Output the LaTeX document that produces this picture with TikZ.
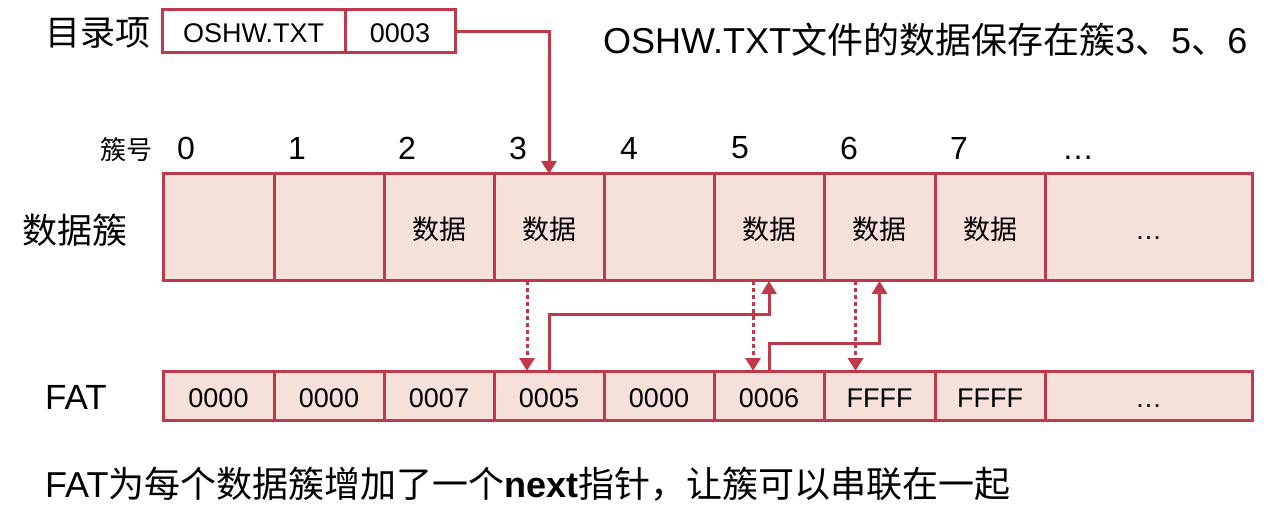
\documentclass[tikz,border=0pt]{standalone}
\usepackage{fontspec}
\setmainfont{Liberation Sans}
\newfontfamily\cjk{Noto Sans CJK SC}
\usetikzlibrary{arrows.meta}
\definecolor{cred}{HTML}{C0394B}
\definecolor{cfill}{HTML}{F5E0DA}
\newcommand{\myell}{\vphantom{0}\dots}
\tikzset{
  cell/.style={draw=cred, fill=cfill, line width=3pt, inner sep=0pt, outer sep=0pt, font=\fontsize{27}{30}\selectfont},
  entrycell/.style={draw=cred, fill=white, line width=3pt, inner sep=0pt, outer sep=0pt, font=\fontsize{27}{30}\selectfont, text height=22pt, text depth=0pt},
  bigtxt/.style={inner sep=0pt, font=\fontsize{35}{40}\selectfont},
  numtxt/.style={inner sep=0pt, font=\fontsize{32}{36}\selectfont},
  smalltxt/.style={inner sep=0pt, font=\fontsize{26}{30}\selectfont},
  link/.style={draw=cred, line width=3pt, -{Triangle[width=15pt,length=13pt]}},
  dotlink/.style={link, dash pattern=on 4pt off 3pt},
}
\begin{document}
\begin{tikzpicture}[x=1pt,y=-1pt]
\path[use as bounding box] (0,0) rectangle (1268,526);

% directory entry
\node[bigtxt] (lblentry) at (98,33) {\cjk 目录项};
\node[entrycell, minimum width=183pt, minimum height=43pt] (e1) at (253.5,31.5) {OSHW.TXT};
\node[entrycell, minimum width=110pt, minimum height=43pt] (e2) at (400,31.5) {0003};
\node[bigtxt, anchor=west, font=\fontsize{36}{40}\selectfont] (title) at (603,40) {OSHW.TXT{\cjk 文件的数据保存在簇}3{\cjk 、}5{\cjk 、}6};

% cluster numbers
\node[smalltxt] (lblnum) at (126,150) {\cjk 簇号};
\foreach \x/\t [count=\i from 0] in {186/0,297/1,407/2,518/3,629/4,740/5,849/6,959/7,1078/\myell}
  \node[numtxt] (n\i) at (\x,148) {\t};

% data clusters
\node[bigtxt] (lbldata) at (75,230) {\cjk 数据簇};
\foreach \cx/\w/\t [count=\i from 0] in {218.5/111/{},329/110/{},439/110/{\cjk 数据},549/110/{\cjk 数据},659/110/{},769/110/{\cjk 数据},879.5/111/{\cjk 数据},990/110/{\cjk 数据},1148.5/207/{\myell}}
  \node[cell, minimum width=\w pt, minimum height=107pt, text height=25.5pt, text depth=1.5pt] (d\i) at (\cx,227.5) {\t};

% FAT
\node[bigtxt] (lblfat) at (76,397) {FAT};
\foreach \cx/\w/\t [count=\i from 0] in {218.5/111/0000,329/110/0000,439/110/0007,549/110/0005,659/110/0000,769/110/0006,879.5/111/FFFF,990/110/FFFF,1148.5/207/{\myell}}
  \node[cell, minimum width=\w pt, minimum height=49pt, text height=23.5pt, text depth=0pt] (f\i) at (\cx,395.5) {\t};

% bottom text
\node[bigtxt, anchor=west, font=\fontsize{36}{40}\selectfont] (note) at (45,484) {FAT{\cjk 为每个数据簇增加了一个}\textbf{next}{\cjk 指针，让簇可以串联在一起}};

% connectors
\coordinate (h1) at (0,315);
\coordinate (h2) at (0,343);
\draw[link] (e2.east) -| (d3.north);
\draw[dotlink] ([xshift=-22pt]d3.south) -- ([xshift=-22pt]f3.north);
\draw[link] (f3.north) -- (f3.north |- h1) -| (d5.south);
\draw[dotlink] ([xshift=-16pt]d5.south) -- ([xshift=-16pt]f5.north);
\draw[link] (f5.north) -- (f5.north |- h2) -| (d6.south);
\draw[dotlink] ([xshift=-24pt]d6.south) -- ([xshift=-24pt]f6.north);
\end{tikzpicture}
\end{document}
